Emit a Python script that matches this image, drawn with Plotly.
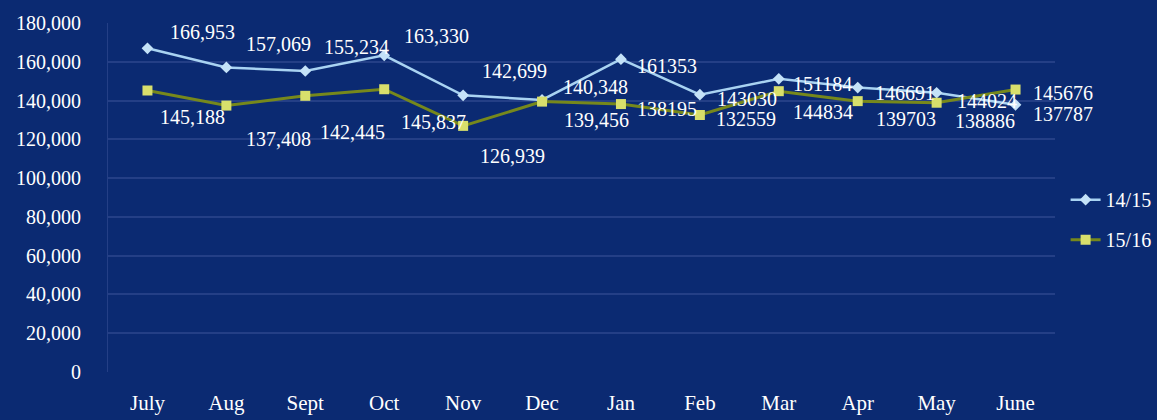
import plotly.graph_objects as go

# Monthly totals for two financial years
months = ["July", "Aug", "Sept", "Oct", "Nov", "Dec", "Jan", "Feb", "Mar", "Apr", "May", "June"]
fy_1415 = [166953, 157069, 155234, 163330, 142699, 140348, 161353, 143030, 151184, 146691, 144024, 137787]
fy_1516 = [145188, 137408, 142445, 145837, 126939, 139456, 138195, 132559, 144834, 139703, 138886, 145676]

# Text of the data labels (first half of the year uses thousands separators)
labels_1415 = ["166,953", "157,069", "155,234", "163,330", "142,699", "140,348",
               "161353", "143030", "151184", "146691", "144024", "137787"]
labels_1516 = ["145,188", "137,408", "142,445", "145,837", "126,939", "139,456",
               "138195", "132559", "144834", "139703", "138886", "145676"]

# Pixel offsets (dx right, dy down) of each data label from its point
offsets_1415 = [(55, -16), (52, -23), (51, -24), (52, -19), (51, -24), (53, -13),
                (46, 7), (47, 4), (44, 5), (47, 5), (50, 8), (47, 9)]
offsets_1516 = [(45, 26), (52, 33), (47, 36), (49, 33), (49, 30), (54, 18),
                (46, 5), (46, 4), (44, 21), (48, 18), (48, 18), (47, 3)]

BG = "#0b2a72"
GRID = "#243f86"
FONT = "Liberation Serif"

fig = go.Figure()
fig.add_trace(go.Scatter(
    x=months, y=fy_1415, name="14/15", mode="lines+markers",
    line=dict(color="#a9d3f2", width=2.5),
    marker=dict(symbol="diamond", size=9, color="#c4e2f8"),
    legendgroup="a",
))
fig.add_trace(go.Scatter(
    x=months, y=fy_1516, name="15/16", mode="lines+markers",
    line=dict(color="#76881c", width=3),
    marker=dict(symbol="square", size=10, color="#d8df6c"),
    legendgroup="b",
))

annotations = []
for vals, texts, offs in ((fy_1415, labels_1415, offsets_1415),
                          (fy_1516, labels_1516, offsets_1516)):
    for m, v, t, (dx, dy) in zip(months, vals, texts, offs):
        annotations.append(dict(
            x=m, y=v, text=t, showarrow=False, xref="x", yref="y",
            xshift=dx, yshift=-dy, xanchor="center", yanchor="middle",
            font=dict(family=FONT, size=20, color="#ffffff"),
        ))

fig.update_layout(
    width=1157, height=420,
    margin=dict(l=108, r=102, t=23, b=48, autoexpand=False),
    paper_bgcolor=BG, plot_bgcolor=BG,
    font=dict(family=FONT, size=20, color="#ffffff"),
    showlegend=True,
    legend=dict(
        xref="container", yref="container",
        x=0.921, y=0.571, xanchor="left", yanchor="top",
        bgcolor="rgba(0,0,0,0)", font=dict(family=FONT, size=20, color="#ffffff"),
        traceorder="grouped", tracegroupgap=11, itemwidth=30,
    ),
    annotations=annotations,
)
fig.update_xaxes(
    range=[-0.5, len(months) - 0.5], automargin=False,
    showgrid=False, showline=False, zeroline=False,
    ticklabelstandoff=16, tickfont=dict(family=FONT, size=21, color="#ffffff"),
)
fig.update_yaxes(
    range=[0, 180000], dtick=20000, tickformat=",d", automargin=False,
    showgrid=True, gridcolor=GRID, gridwidth=1.5, zeroline=False,
    showline=True, linecolor=GRID, linewidth=1,
    ticklabelstandoff=22, tickfont=dict(family=FONT, size=20, color="#ffffff"),
)

fig.write_html("out.html")
